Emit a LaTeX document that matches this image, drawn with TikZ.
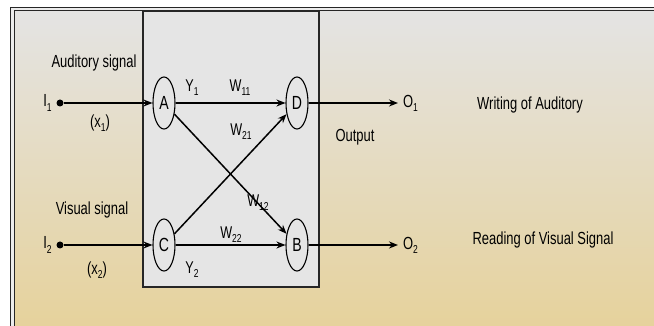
\documentclass[tikz,border=0pt]{standalone}
\usepackage{fontspec}
\setmainfont{Liberation Sans}[FakeStretch=0.74]
\usetikzlibrary{positioning,arrows.meta,shapes.geometric}
\definecolor{bgtop}{RGB}{228,228,228}
\definecolor{bgbot}{RGB}{230,210,156}
\definecolor{boxgray}{RGB}{229,229,229}
\tikzset{
  neuron/.style={ellipse, draw, line width=1.1pt, fill=boxgray,
    minimum width=22pt, minimum height=52pt, inner sep=0pt,
    font=\fontsize{19}{19}\selectfont},
  txt/.style={font=\fontsize{17.5}{17.5}\selectfont},
  wlabel/.style={font=\fontsize{17}{17}\selectfont},
  dot/.style={circle, fill, inner sep=0pt, minimum size=7pt},
  >={Stealth[length=9pt,width=7pt]},
}
\newcommand\low[1]{\raisebox{-0.45ex}{\fontsize{11.5}{11.5}\selectfont#1}}

\begin{document}
\begin{tikzpicture}[
  x=1pt, y=1pt,
  node distance=133pt,
  line width=1.5pt,
]
\useasboundingbox (0,0) rectangle (654,326);
\fill[white] (0,0) rectangle (654,326);
\shade[top color=bgtop, bottom color=bgbot] (12,0) rectangle (654,317);
% network box
\draw[fill=boxgray, draw=black!85, line width=1.1pt] (143,315) rectangle (319,39);
% frame
\draw[line width=0.9pt, draw=black!85, double=bgtop!70!white, double distance=2.4pt]
  (12.5,0) -- (12.5,317) -- (654,317);

\node[neuron] (A) at (164,223) {A};
\node[neuron, right of=A] (D) {D};
\node[neuron, node distance=142pt, below of=A] (C) {C};
\node[neuron, right of=C] (B) {B};

% inputs
\node[dot] (I1) at (60,223) {};
\node[dot] (I2) at (60,81) {};
\node[txt, left=0pt of I1] (I1lbl) {I\low{1}};
\node[txt, left=0pt of I2] (I2lbl) {I\low{2}};
\node[txt] (audsig) at (94,263) {Auditory signal};
\node[txt] (vissig) at (92,116) {Visual signal};
\node[txt] (x1) at (100,203) {(x\low{1})};
\node[txt] (x2) at (97,56) {(x\low{2})};

\draw[->, line width=1.8pt] (I1) -- (A);
\draw[->, line width=1.8pt] (I2) -- (C);

% weights
\path[->]
(A) edge[line width=1.8pt] (D)
(A) edge (B)
(C) edge (D)
(C) edge[line width=1.8pt] (B);

\node[wlabel] (y1) at (192,238) {Y\low{1}};
\node[wlabel] (y2) at (192,56) {Y\low{2}};
\node[wlabel] (w11) at (240,238) {W\low{11}};
\node[wlabel] (w21) at (241,194) {W\low{21}};
\node[wlabel] (w12) at (258,123) {W\low{12}};
\node[wlabel] (w22) at (231,91) {W\low{22}};

% outputs
\coordinate (O1) at (398,223);
\coordinate (O2) at (398,81);
\draw[->, line width=1.8pt] (D) -- (O1);
\draw[->, line width=1.8pt] (B) -- (O2);
\node[txt, right=1pt of O1] (o1lbl) {O\low{1}};
\node[txt, right=1pt of O2] (o2lbl) {O\low{2}};
\node[txt] (outlbl) at (355,189) {Output};
\node[txt] (writing) at (530,221) {Writing of Auditory};
\node[txt] (reading) at (543,86) {Reading of Visual Signal};
\end{tikzpicture}
\end{document}
